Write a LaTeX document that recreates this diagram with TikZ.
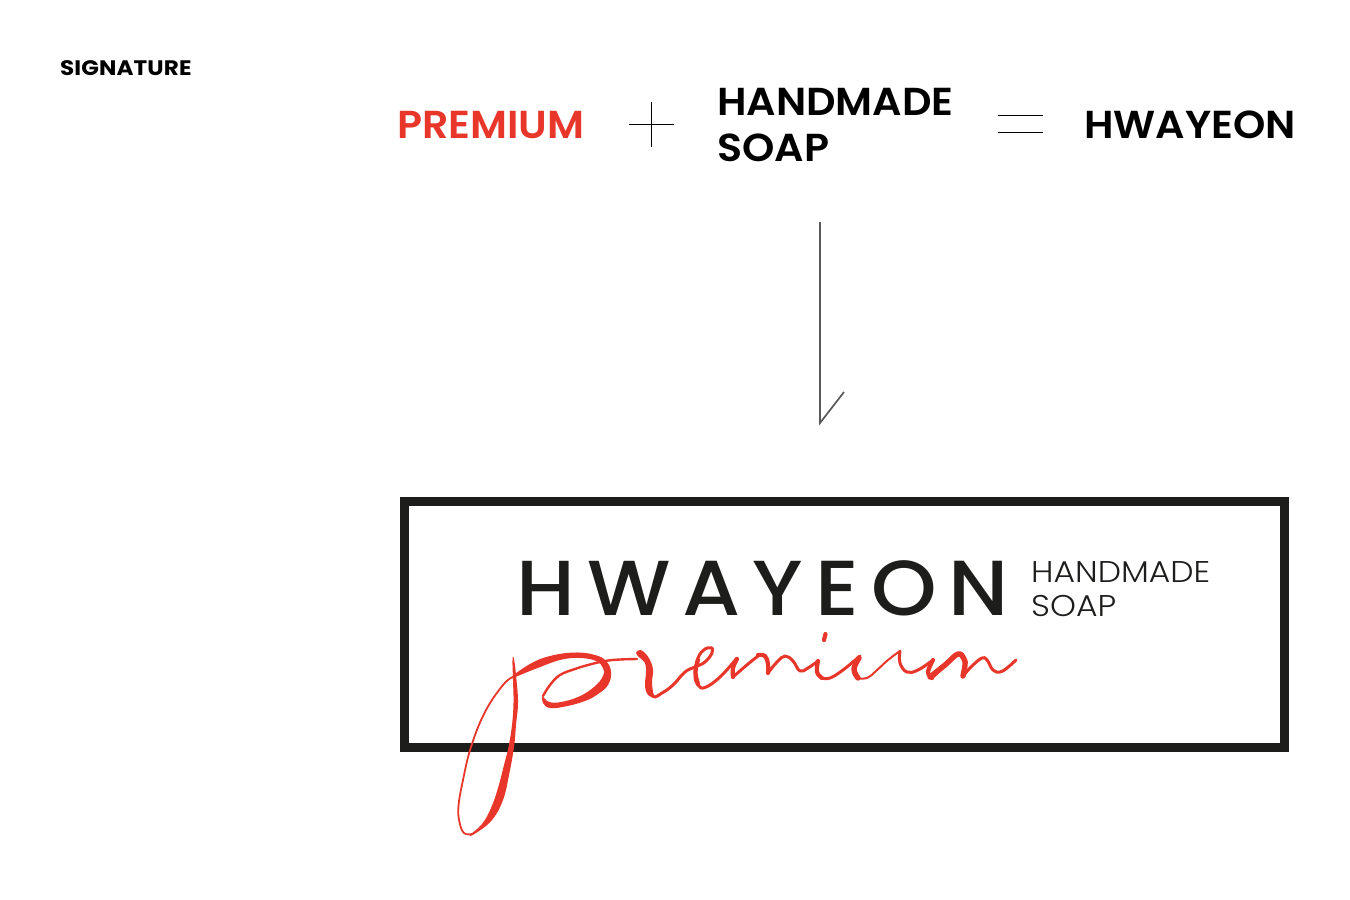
\documentclass[tikz,border=0pt]{standalone}
\usepackage{fontspec}
\setmainfont{Poppins}
\newfontfamily\boldfont[FakeStretch=1.055]{Poppins SemiBold}
\newfontfamily\smallboldfont[FakeStretch=1.1,LetterSpace=0.5]{Poppins Bold}
\newfontfamily\logofont[FakeStretch=1.07,LetterSpace=15.5]{Poppins Medium}
\newfontfamily\lightfont[FakeStretch=1.1]{Poppins Light}
\definecolor{logored}{HTML}{E8372A}
\definecolor{logoblack}{HTML}{1D1D1B}
\tikzset{
	headtext/.style={anchor=base west,inner sep=0pt,font=\boldfont\fontsize{39}{39}\selectfont,text=black},
	subtext/.style={anchor=north west,inner sep=0pt,align=left,font=\lightfont\fontsize{30}{34}\selectfont,text=logoblack},
	thinline/.style={draw=black,line width=0.8pt},
	arrowline/.style={draw=black!65,line width=1.7pt},
	sign/.style={draw=logored,line cap=round,line join=round,line width=3pt},
	signb/.style={sign,line width=4.2pt},
	signc/.style={sign,line width=5.4pt},
}
\begin{document}
\begin{tikzpicture}[x=1pt,y=-1pt]
	\useasboundingbox (0,0) rectangle (1350,900);
	\node [anchor=base west,inner sep=0pt,font=\smallboldfont\fontsize{21}{21}\selectfont] (title) at (60,75) {SIGNATURE};
	% top row
	\node [headtext,text=logored] (premium) at (397,138) {PREMIUM};
	\node [headtext] (handmade) at (717,115) {HANDMADE};
	\node [headtext] (soap) at (717,161) {SOAP};
	\node [headtext] (hwayeon) at (1084,138) {HWAYEON};
	\draw [thinline] (629,124.5) -- (674,124.5);
	\draw [thinline] (651.5,102) -- (651.5,147);
	\draw [thinline] (998,115) -- (1043,115);
	\draw [thinline] (998,132) -- (1043,132);
	% arrow
	\coordinate (arrowtop) at (820,222);
	\coordinate (arrowtip) at (820,423);
	\coordinate (arrowend) at (844,392);
	\draw [arrowline] (arrowtop) -- (arrowtip) -- (arrowend);
	% logo
	\draw [draw=logoblack,line width=9pt] (404.5,501.5) rectangle (1284.5,747.5);
	\node [anchor=base west,inner sep=0pt,font=\logofont\fontsize{78}{78}\selectfont,text=logoblack] (logoname) at (516,615) {HWAYEON};
	\node [subtext] (logosub) at (1031,561) {HANDMADE\\SOAP};
	% signature, the p
	\draw [sign,line width=1.8pt] plot [smooth,tension=0.7] coordinates {(472,834) (464,833) (459.5,822) (458.5,806) (463,780) (471,747) (485,712) (503,685) (513,677)};
	\fill [logored] plot [smooth cycle,tension=0.7] coordinates {(514,659) (516.5,680) (518,703) (516,725) (514,747) (509,775) (503,800) (492,820) (476,833) (470,835) (482,824) (491,808) (498,788) (504,765) (508.5,747) (512,725) (513.5,703) (513,680) (512.5,660)};
	\fill [logored] plot [smooth cycle,tension=0.7] coordinates {(511,678) (530,664) (550,656) (575,652.5) (595,655) (606,661) (611,672) (608,685) (598,694) (585,701) (565,706.5) (550,708) (543,703) (542.5,696) (547,701) (558,702.5) (578,697) (594,687) (603,676) (603,668) (596,661) (580,658) (560,660) (535,669)};
	\draw [sign,line width=2.4pt] plot [smooth,tension=0.7] coordinates {(543,696) (550,685) (560,675) (575,669) (588,665) (605,661) (620,659.5) (637,659)};
	% the r
	\fill [logored] plot [smooth cycle,tension=0.7] coordinates {(636,653) (640,650) (645,653) (650,660) (653,670) (652,682) (653,692) (654,697) (648,695) (645,686) (646,672) (645,663) (640,658)};
	% the rest, one stroke each
	\draw [sign] plot [smooth,tension=0.7] coordinates {(647,685) (653,696.5) (662,693) (673,685) (685,672) (695,667) (705,662) (712,653) (712,648)};
	\draw [sign] plot [smooth,tension=0.7] coordinates {(712,648) (705,649) (698,658) (695,675) (698,685) (705,687.5) (720,677) (737,658)};
	\draw [sign] plot [smooth,tension=0.7] coordinates {(733,677) (748,664) (760,654.5)};
	\draw [sign] plot [smooth,tension=0.7] coordinates {(768,673) (777,662) (785,656) (793,661) (800,671) (808,668) (818,661)};
	\draw [sign] plot [smooth,tension=0.7] coordinates {(822,678) (830,678) (843,670) (860,656)};
	\draw [sign,line width=2pt] plot [smooth,tension=0.7] coordinates {(857,678) (867,678) (876,671) (888,660) (900,651)};
	\draw [sign] plot [smooth,tension=0.7] coordinates {(900,651) (900,663) (907,672) (918,670) (933,660)};
	\draw [sign] plot [smooth,tension=0.7] coordinates {(932,678) (945,665) (958,653)};
	\draw [sign] plot [smooth,tension=0.7] coordinates {(963,676) (972,666) (982,658) (987,660) (993,670) (1000,672) (1007,668) (1016,660)};
	% thick parts
	\draw [signb] plot [smooth,tension=0.7] coordinates {(698,660) (695.5,672) (698,684)};
	\draw [signb] plot [smooth,tension=0.7] coordinates {(737,659) (733,668) (733,677)};
	\draw [signb] plot [smooth,tension=0.7] coordinates {(758,655) (765,656) (768,664) (768,673)};
	\draw [signb] plot [smooth,tension=0.7] coordinates {(818,661) (817,672) (822,678)};
	\draw [signc] plot [smooth,tension=0.7] coordinates {(859,658) (854,669) (858,678)};
	\draw [signb] plot [smooth,tension=0.7] coordinates {(933,660) (928,672) (932,678)};
	\draw [signc] plot [smooth,tension=0.7] coordinates {(930,677) (945,665) (958,654) (964,659) (965,665) (963,676)};
	\draw [signb] (825.5,634) -- (824,640);
\end{tikzpicture}
\end{document}
